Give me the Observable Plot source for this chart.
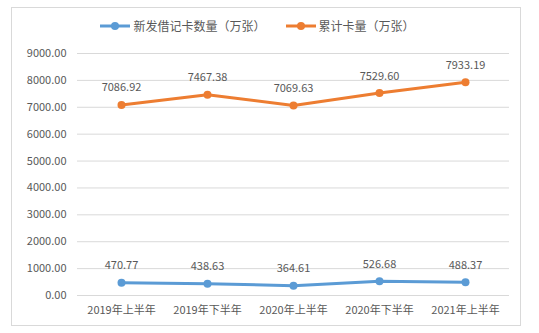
<!DOCTYPE html>
<html><head><meta charset="utf-8">
<script src="https://cdn.jsdelivr.net/npm/d3@7"></script>
<script src="https://cdn.jsdelivr.net/npm/@observablehq/plot@0.6"></script>
<style>
body{margin:0;background:#fff;font-family:"Noto Sans CJK SC","Noto Sans",sans-serif;}
#wrap{position:relative;width:539px;height:333px;overflow:hidden;}
#frame{position:absolute;left:11px;top:7px;width:510px;height:319px;border:1px solid #d9d9d9;box-sizing:border-box;pointer-events:none;}
#legend{position:absolute;top:17px;left:-12px;width:539px;display:flex;justify-content:center;gap:20px;font-size:12px;color:#595959;}
.item{display:flex;align-items:center;gap:3px;}
.item svg{display:block;}
</style></head><body>
<div id="wrap"><div id="chart"></div><div id="frame"></div><div id="legend"></div></div>
<script>
const categories = ["2019年上半年","2019年下半年","2020年上半年","2020年下半年","2021年上半年"];
const newCards = [470.77, 438.63, 364.61, 526.68, 488.37];
const totalCards = [7086.92, 7467.38, 7069.63, 7529.60, 7933.19];
const seriesNames = ["新发借记卡数量（万张）","累计卡量（万张）"];
const colors = ["#5b9bd5","#ed7d31"];
const yTicks = [0,1000,2000,3000,4000,5000,6000,7000,8000,9000];

const data = [];
categories.forEach((c,i)=>{
  data.push({cat:c, value:newCards[i], series:seriesNames[0]});
  data.push({cat:c, value:totalCards[i], series:seriesNames[1]});
});

const plot = Plot.plot({
  width:539, height:333,
  marginTop:53, marginBottom:38, marginLeft:77, marginRight:30,
  style:{fontFamily:'"Noto Sans CJK SC","Noto Sans",sans-serif', fontSize:"11px", color:"#595959"},
  x:{type:"point", domain:categories, padding:0.5, label:null, tickSize:0, tickPadding:11},
  y:{domain:[0,9000], ticks:yTicks, tickFormat:d=>d.toFixed(2), label:null, tickSize:0, tickPadding:11},
  color:{domain:seriesNames, range:colors},
  marks:[
    Plot.ruleY(yTicks,{stroke:"#d9d9d9", strokeWidth:1}),
    Plot.line(data,{x:"cat", y:"value", z:"series", stroke:"series", strokeWidth:3}),
    Plot.dot(data,{x:"cat", y:"value", fill:"series", r:4}),
    Plot.text(data,{x:"cat", y:"value", text:d=>d.value.toFixed(2), dy:-17, fill:"#595959", fontSize:11})
  ]
});
document.getElementById("chart").appendChild(plot);

const lg = document.getElementById("legend");
seriesNames.forEach((n,i)=>{
  const it = document.createElement("div"); it.className="item";
  it.innerHTML = `<svg width="30" height="10"><line x1="0" x2="30" y1="5" y2="5" stroke="${colors[i]}" stroke-width="3"/><circle cx="15" cy="5" r="4" fill="${colors[i]}"/></svg><span>${n}</span>`;
  lg.appendChild(it);
});
</script></body></html>
